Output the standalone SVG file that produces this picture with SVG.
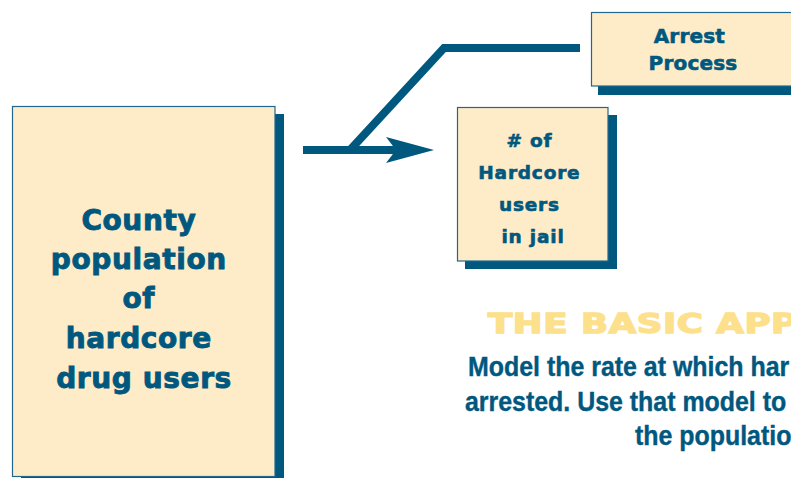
<svg xmlns="http://www.w3.org/2000/svg" width="791" height="478" viewBox="0 0 791 478">
  <style>
    .shadow { fill: #00587f; }
    .box { fill: #feebc7; stroke: #1f6890; stroke-width: 1.2; }
    .label { fill: #00587f; stroke: #00587f; font-family: "DejaVu Sans", "Open Sans", sans-serif; font-weight: bold; text-anchor: middle; }
    .big { font-size: 28px; letter-spacing: 0.6px; stroke-width: 0.9px; }
    .mid { font-size: 18.5px; letter-spacing: 0.8px; stroke-width: 0.6px; }
    .sm { font-size: 20px; letter-spacing: 0.2px; stroke-width: 0.6px; }
    .conn { fill: none; stroke: #00587f; stroke-width: 8; stroke-linejoin: miter; stroke-linecap: butt; }
    .head { fill: #fde08c; stroke: #fde08c; stroke-width: 1.4px; font-family: "DejaVu Sans", sans-serif; font-weight: bold; font-size: 27px; letter-spacing: 0.4px; }
    .body { fill: #00587f; stroke: #00587f; stroke-width: 0.4px; font-family: "Liberation Sans", Arial, sans-serif; font-weight: bold; font-size: 28px; }
  </style>
  <defs>
    <marker id="arrow" markerUnits="userSpaceOnUse" markerWidth="50" markerHeight="28" refX="19" refY="13" orient="auto" overflow="visible">
      <path d="M0,0 L48,13 L0,26 L10,13 Z" fill="#00587f"/>
    </marker>
  </defs>
  <rect width="791" height="478" fill="#ffffff"/>

  <g id="county-population">
    <rect class="shadow" x="21" y="114" width="263" height="372"/>
    <rect class="box" x="12.5" y="106.5" width="262.5" height="370"/>
    <text class="label big">
      <tspan x="144" y="230">County</tspan>
      <tspan x="144" y="269">population</tspan>
      <tspan x="144" y="308">of</tspan>
      <tspan x="144" y="348">hardcore</tspan>
      <tspan x="144" y="388">drug users</tspan>
    </text>
  </g>

  <g id="jail-users">
    <rect class="shadow" x="465" y="115" width="152" height="154"/>
    <rect class="box" x="457.5" y="107.5" width="150.5" height="153.5"/>
    <text class="label mid">
      <tspan x="533" y="147">#&#160;of</tspan>
      <tspan x="533" y="179">Hardcore</tspan>
      <tspan x="533" y="211">users</tspan>
      <tspan x="533" y="243">in jail</tspan>
    </text>
  </g>

  <g id="arrest-process">
    <rect class="shadow" x="598" y="20" width="220" height="75"/>
    <rect class="box" x="591.5" y="12.5" width="220" height="73.5"/>
    <text class="label sm">
      <tspan x="693" y="43">Arrest</tspan>
      <tspan x="693" y="70">Process</tspan>
    </text>
  </g>

  <g id="connectors">
    <path class="conn" d="M303,150 L405,150" marker-end="url(#arrow)"/>
    <path class="conn" d="M350,150 L444,48 L580,48"/>
  </g>

  <g id="approach-text">
    <text class="head" transform="translate(488,333) scale(1.32,1)">THE BASIC APP</text>
    <text class="body" transform="translate(468,376) scale(0.89,1)">Model the rate at which har</text>
    <text class="body" transform="translate(465,411) scale(0.89,1)">arrested. Use that model to</text>
    <text class="body" transform="translate(635,445) scale(0.89,1)">the populatio</text>
  </g>
</svg>
